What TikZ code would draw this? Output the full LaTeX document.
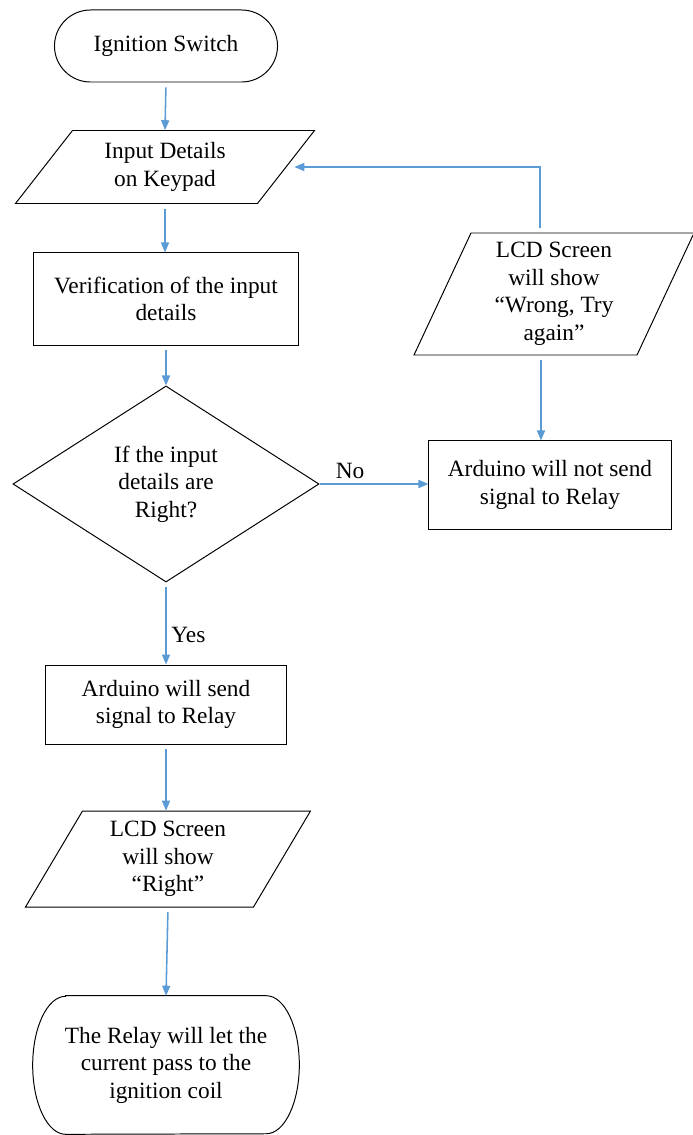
\documentclass[tikz,border=0pt]{standalone}
\usepackage{fontspec}
\setmainfont{Liberation Serif}
\newfontfamily\termfont{Liberation Serif}
\usetikzlibrary{arrows.meta,shapes.geometric}

\definecolor{flowblue}{RGB}{91,155,213}

\tikzset{
  flow/.style={draw=flowblue, line width=1.1pt,
    -{Triangle[length=0.25cm,width=0.2cm]}, shorten <=0.12cm},
  box/.style={draw, line width=0.7pt, align=center, inner sep=0pt},
  txt/.style={align=center, inner sep=0pt},
}

% outline of a slanted input/output box round a text node
% #1 node, #2 half width, #3 half height, #4 half slant
\newcommand{\slantbox}[4]{%
  \draw[line width=0.7pt] ([shift={(-#2+#4,-#3)}]#1.center)
    -- ([shift={(#2+#4,-#3)}]#1.center)
    -- ([shift={(#2-#4,#3)}]#1.center)
    -- ([shift={(-#2-#4,#3)}]#1.center) -- cycle;}

\begin{document}
\begin{tikzpicture}[x=0.025cm, y=-0.025cm, font=\termfont\fontsize{16.6}{19.6}\selectfont]
    \useasboundingbox (0,0) rectangle (692,1135);
    % Terminals
    \node[box, rounded corners=0.9cm, minimum width=5.575cm, minimum height=1.8cm]
      (start) at (166,46) {Ignition Switch};
    \node[txt, minimum width=6.65cm, minimum height=3.45cm]
      (stop) at (166,1065) {The Relay will let the\\current pass to the\\ignition coil};
    \draw[line width=0.7pt] ([xshift=0.825cm]stop.north west) -- ([xshift=-0.825cm]stop.north east)
      arc[start angle=90, end angle=-90, x radius=0.825cm, y radius=1.725cm]
      -- ([xshift=0.825cm]stop.south west)
      arc[start angle=270, end angle=90, x radius=0.825cm, y radius=1.725cm] -- cycle;
    % Input and output boxes
    \node[txt, minimum width=6.05cm, minimum height=1.825cm]
      (input) at (165,167) {Input Details\\on Keypad};
    \slantbox{input}{121}{36.5}{28.5}
    \node[txt, minimum width=5.575cm, minimum height=3.05cm]
      (wrong) at (554,294) {LCD Screen\\will show\\“Wrong, Try\\again”};
    \slantbox{wrong}{111.5}{61}{28.5}
    \node[txt, minimum width=5.7cm, minimum height=2.4cm]
      (right) at (168,859) {LCD Screen\\will show\\“Right”};
    \slantbox{right}{114}{48}{28.5}
    % Process boxes
    \node[box, minimum width=6.625cm, minimum height=2.3cm]
      (verify) at (166,299) {Verification of the input\\details};
    \node[box, minimum width=6.05cm, minimum height=2.2cm]
      (nosend) at (550,485) {Arduino will not send\\signal to Relay};
    \node[box, minimum width=6.025cm, minimum height=1.975cm]
      (send) at (166,704.5) {Arduino will send\\signal to Relay};
    % Decision
    \node[box, diamond, aspect=1.56, minimum width=7.65cm, minimum height=4.9cm]
      (check) at (166,484) {If the input\\details are\\Right?};
    % Arrows
    \draw[flow] (start.south) -- (input.north);
    \draw[flow] (input.south) -- (input.south |- verify.north);
    \draw[flow] (verify.south) -- (verify.south |- check.north);
    \draw[flow, shorten <=0pt] (check.east) -- node[pos=0.28, above] {No} (check.east -| nosend.west);
    \draw[flow] (check.south) -- node[pos=0.64, right] {Yes} (check.south |- send.north);
    \draw[flow] (send.south) -- (send.south |- right.north);
    \draw[flow] (right.south) -- (stop.north);
    \draw[flow] ([xshift=-0.325cm]wrong.south) -- ([xshift=-0.325cm]wrong.south |- nosend.north);
    \draw[flow] ([xshift=-0.35cm]wrong.north) |- ([xshift=0.2cm]input.east);
\end{tikzpicture}
\end{document}
